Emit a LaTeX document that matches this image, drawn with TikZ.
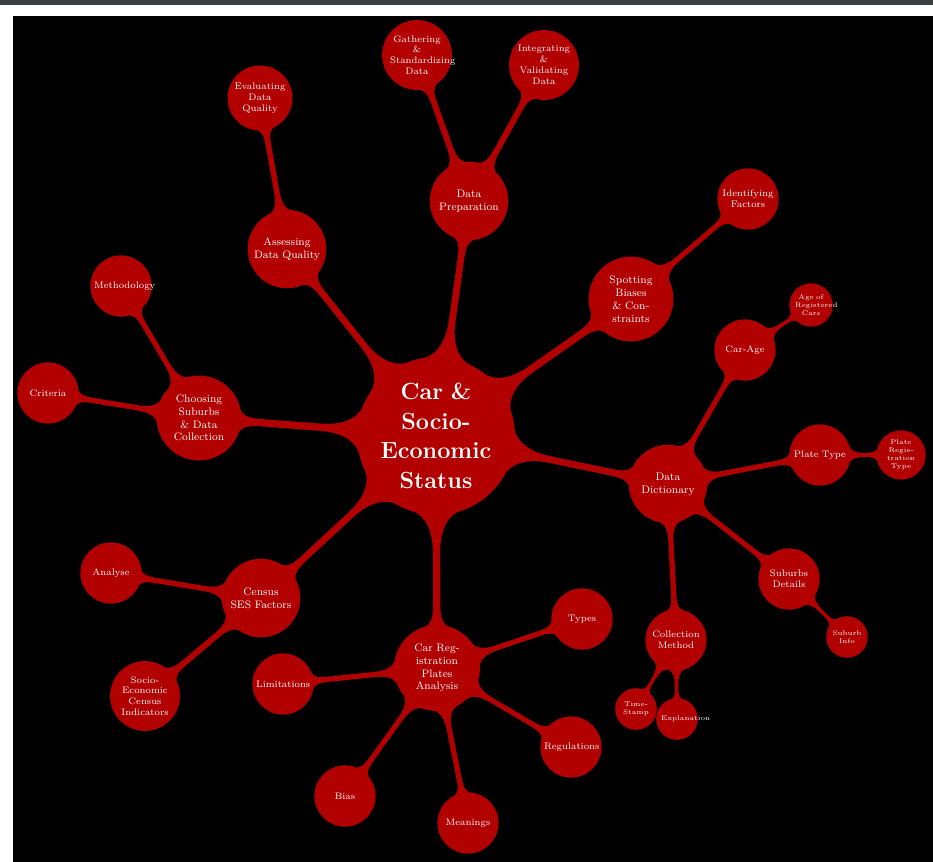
\documentclass[tikz,border=0pt]{standalone}
\usepackage{xcolor}
\usepackage{tikz}
\usetikzlibrary{mindmap}
\definecolor{mapred}{HTML}{B20000}
\definecolor{viewergray}{HTML}{3C4043}

\tikzset{
  rootcon/.style={concept, minimum size=3.9cm, text width=3cm, inner sep=0pt, font=\LARGE\bfseries},
  maincon/.style={concept, minimum size=2cm, text width=1.8cm, inner sep=0pt, font=\footnotesize},
  subcon/.style={concept, minimum size=1.55cm, text width=1.4cm, inner sep=0.5pt, font=\scriptsize},
  leafcon/.style={concept, minimum size=1.04cm, text width=0.82cm, inner sep=1pt, font=\tiny},
  mainbar/.style={circle connection bar switch color=from (mapred) to (mapred), line width=5pt},
  subbar/.style={circle connection bar switch color=from (mapred) to (mapred), line width=4pt},
  leafbar/.style={circle connection bar switch color=from (mapred) to (mapred), line width=3pt},
}

\begin{document}
\begin{tikzpicture}[mindmap, concept color=mapred, text=white, x=0.026cm, y=-0.026cm]
  \useasboundingbox (0,0) rectangle (933,862);
  \fill[white] (0,0) rectangle (933,862);
  \fill[viewergray] (0,0) rectangle (933,5);
  \fill[black] (13,16) rectangle (933,862);

  \node[rootcon] (root) at (436,436) {Car \&\\Socio-\\Economic\\Status};

  \node[maincon] (prep) at (469,201) {Data\\Preparation};
  \node[maincon] (assess) at (287,249) {Assessing\\\mbox{Data Quality}};
  \node[maincon] (spot) at (631,299) {Spotting\\Biases\\\& Con-\\straints};
  \node[maincon] (dict) at (668,484) {Data\\Dictionary};
  \node[maincon] (plates) at (437,668) {Car Reg-\\istration\\Plates\\Analysis};
  \node[maincon] (census) at (261,598) {Census\\\mbox{SES Factors}};
  \node[maincon] (choose) at (199,418) {Choosing\\Suburbs\\\& Data\\Collection};

  \node[subcon] (gather) at (417,55) {Gathering\\\&\\Standardizing\\Data};
  \node[subcon] (integrate) at (544,65) {Integrating\\\&\\Validating\\Data};
  \node[subcon] (evaluate) at (260,98) {Evaluating\\Data\\Quality};
  \node[subcon] (identify) at (748,199) {Identifying\\Factors};
  \node[subcon] (carage) at (745,350) {Car-Age};
  \node[subcon] (platetype) at (820,455) {\mbox{Plate Type}};
  \node[subcon] (suburbs) at (789,579) {Suburbs\\Details};
  \node[subcon] (collect) at (676,640) {Collection\\Method};
  \node[subcon] (types) at (582,619) {Types};
  \node[subcon] (regs) at (571,747) {Regulations};
  \node[subcon] (meanings) at (468,823) {Meanings};
  \node[subcon] (bias) at (345,796) {Bias};
  \node[subcon] (limits) at (283,684) {Limitations};
  \node[subcon] (analyse) at (111,573) {Analyse};
  \node[subcon] (indicators) at (145,696) {Socio-\\Economic\\Census\\Indicators};
  \node[subcon] (method) at (121,286) {Methodology};
  \node[subcon] (criteria) at (48,393) {Criteria};

  \node[leafcon] (agecars) at (811,305) {Age of\\Registered\\Cars};
  \node[leafcon] (regtype) at (901,455) {Plate\\Regis-\\tration\\Type};
  \node[leafcon] (suburbinfo) at (847,637) {Suburb\\Info};
  \node[leafcon] (timestamp) at (636,709) {Time-\\Stamp};
  \node[leafcon] (explain) at (677,719) {Explanation};

  \path (root) to[mainbar] (prep);
  \path (root) to[mainbar] (assess);
  \path (root) to[mainbar] (spot);
  \path (root) to[mainbar] (dict);
  \path (root) to[mainbar] (plates);
  \path (root) to[mainbar] (census);
  \path (root) to[mainbar] (choose);

  \path (prep) to[subbar] (gather);
  \path (prep) to[subbar] (integrate);
  \path (assess) to[subbar] (evaluate);
  \path (spot) to[subbar] (identify);
  \path (dict) to[subbar] (carage);
  \path (dict) to[subbar] (platetype);
  \path (dict) to[subbar] (suburbs);
  \path (dict) to[subbar] (collect);
  \path (plates) to[subbar] (types);
  \path (plates) to[subbar] (regs);
  \path (plates) to[subbar] (meanings);
  \path (plates) to[subbar] (bias);
  \path (plates) to[subbar] (limits);
  \path (census) to[subbar] (analyse);
  \path (census) to[subbar] (indicators);
  \path (choose) to[subbar] (method);
  \path (choose) to[subbar] (criteria);

  \path (carage) to[leafbar] (agecars);
  \path (platetype) to[leafbar] (regtype);
  \path (suburbs) to[leafbar] (suburbinfo);
  \path (collect) to[leafbar] (timestamp);
  \path (collect) to[leafbar] (explain);
\end{tikzpicture}
\end{document}
